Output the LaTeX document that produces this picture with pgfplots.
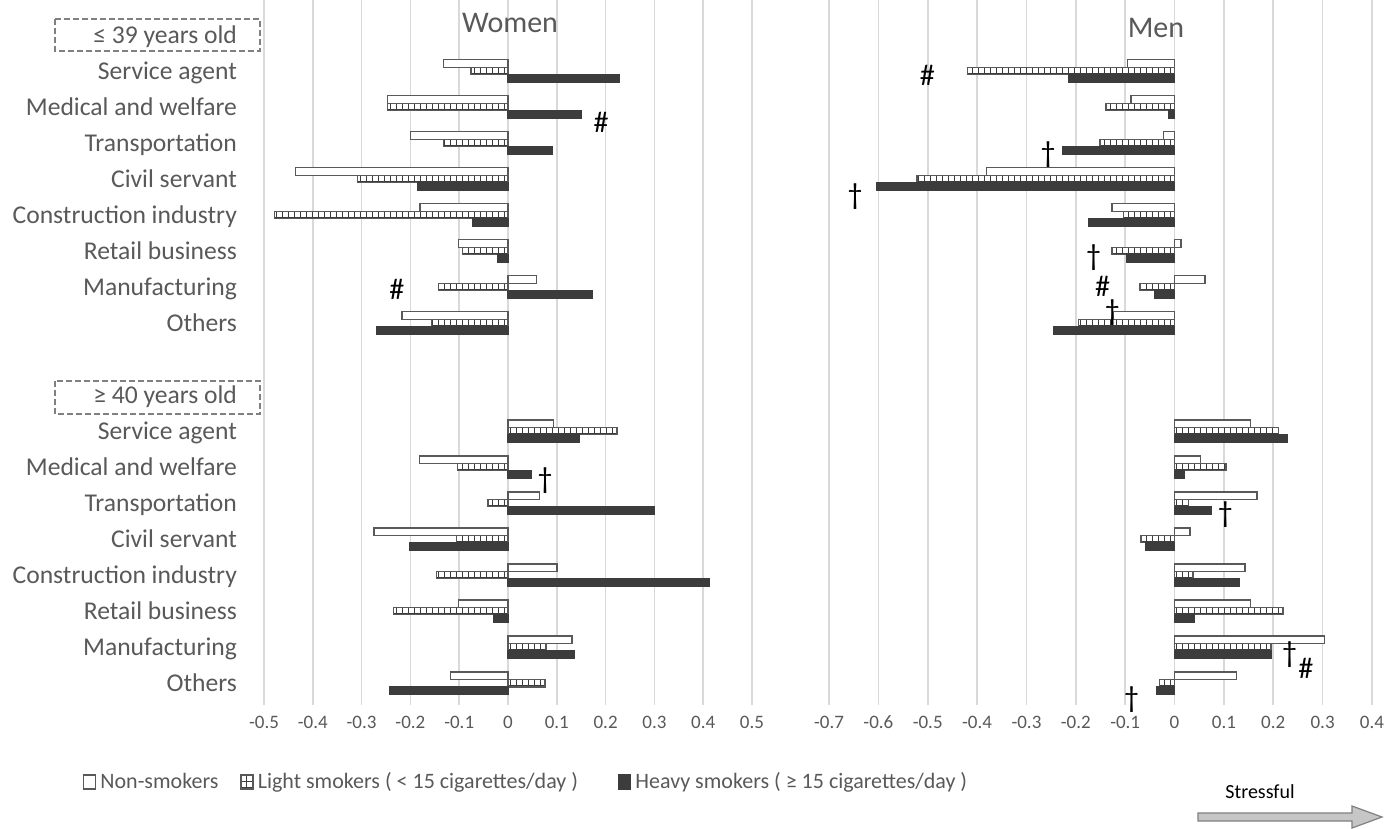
\documentclass[border=0pt]{standalone}
\usepackage{pgfplots}
\pgfplotsset{compat=1.18}
\usepackage{pgfplotstable}
\usepackage{fontspec}
\setmainfont{Carlito}
\usetikzlibrary{patterns}
\definecolor{txt}{HTML}{595959}
\definecolor{grd}{HTML}{D9D9D9}
\definecolor{dark}{HTML}{3C3C3C}

\pgfplotstableread{
row ns light heavy
1 -0.132 -0.076 0.228
2 -0.247 -0.247 0.150
3 -0.200 -0.132 0.090
4 -0.436 -0.309 -0.186
5 -0.180 -0.479 -0.072
6 -0.101 -0.093 -0.021
7 0.058 -0.143 0.172
8 -0.217 -0.157 -0.269
11 0.093 0.223 0.146
12 -0.181 -0.104 0.047
13 0.064 -0.041 0.300
14 -0.275 -0.106 -0.202
15 0.100 -0.147 0.413
16 -0.102 -0.235 -0.029
17 0.131 0.078 0.136
18 -0.118 0.076 -0.243
}\women

\pgfplotstableread{
row ns light heavy
1 -0.095 -0.419 -0.214
2 -0.088 -0.139 -0.012
3 -0.022 -0.151 -0.226
4 -0.381 -0.522 -0.604
5 -0.127 -0.104 -0.173
6 0.013 -0.127 -0.097
7 0.062 -0.070 -0.041
8 -0.125 -0.195 -0.245
11 0.154 0.210 0.228
12 0.052 0.104 0.020
13 0.167 0.028 0.074
14 0.031 -0.068 -0.058
15 0.143 0.037 0.131
16 0.154 0.220 0.041
17 0.304 0.195 0.195
18 0.125 -0.031 -0.036
}\men

\tikzset{ann/.style={font=\fontsize{15}{15}\selectfont, text=black}}
\pgfplotsset{
  panel/.style={
    scale only axis, height=352.5pt,
    xbar, bar width=0.208,
    y dir=reverse, ymin=-0.972, ymax=18.61,
    xmajorgrids, grid style={grd, line width=0.8pt},
    axis line style={draw=none},
    major tick length=0pt,
    xticklabel style={font=\fontsize{9.5}{11}\selectfont, text=txt, yshift=-2pt},
    /pgf/number format/fixed, /pgf/number format/precision=1,
    /pgf/number format/assume math mode=true,
    clip=false,
  },
  bimg/.style={legend image code/.code={\draw[##1] (0pt,-3.5pt) rectangle (6pt,3.5pt);}},
  ns/.style={fill=white, draw=txt, line width=0.7pt, bar shift=0pt, bimg},
  lt/.style={fill=white, draw=txt, line width=0.7pt, bar shift=0pt,
     postaction={pattern=grid, pattern color=dark}, bimg},
  hv/.style={fill=dark, draw=dark, line width=0.7pt, bar shift=0pt, bimg},
}

\begin{document}
\begin{tikzpicture}
\useasboundingbox (0pt,0pt) rectangle (693pt,-414.5pt);

% Women
\begin{axis}[panel,
  at={(132pt,-352.5pt)}, anchor=south west, width=244pt,
  xmin=-0.5, xmax=0.5,
  xtick={-0.5,-0.4,-0.3,-0.2,-0.1,0,0.1,0.2,0.3,0.4,0.5},
  ytick={0,1,2,3,4,5,6,7,8,10,11,12,13,14,15,16,17,18},
  yticklabels={≤ 39 years old, Service agent, Medical and welfare, Transportation, Civil servant, Construction industry, Retail business, Manufacturing, Others,
   ≥ 40 years old, Service agent, Medical and welfare, Transportation, Civil servant, Construction industry, Retail business, Manufacturing, Others},
  yticklabel style={font=\fontsize{12.8}{14}\selectfont, text=txt, xshift=-10pt, text depth=0pt},
  legend style={at={(-0.384,-0.109)}, anchor=west, draw=none, fill=none,
    font=\fontsize{11}{12}\selectfont, text=txt, legend columns=3,
    /tikz/column 2/.style={column sep=9pt},
    /tikz/column 4/.style={column sep=18pt}},
]
\addplot[ns] table[x=ns, y expr=\thisrow{row}-0.208] {\women};
\addplot[lt] table[x=light, y expr=\thisrow{row}] {\women};
\addplot[hv] table[x=heavy, y expr=\thisrow{row}+0.208] {\women};
\legend{Non-smokers\vphantom{()}, Light smokers ( < 15 cigarettes/day ), Heavy smokers ( ≥ 15 cigarettes/day )}
\draw[gray, dash pattern=on 3pt off 1.5pt, line width=0.8pt] (axis cs:-0.928,-0.444) rectangle (axis cs:-0.508,0.444);
\draw[gray, dash pattern=on 3pt off 1.5pt, line width=0.8pt] (axis cs:-0.928,9.61) rectangle (axis cs:-0.508,10.53);
\node[ann] at (axis cs:0.191,2.42) {\#};
\node[ann] at (axis cs:-0.228,7.06) {\#};
\node[ann] at (axis cs:0.076,12.39) {†};
\end{axis}

% Men
\begin{axis}[panel,
  at={(414.5pt,-352.5pt)}, anchor=south west, width=271.5pt,
  xmin=-0.7, xmax=0.4,
  xtick={-0.7,-0.6,-0.5,-0.4,-0.3,-0.2,-0.1,0,0.1,0.2,0.3,0.4},
  ytick=\empty,
]
\addplot[ns] table[x=ns, y expr=\thisrow{row}-0.208] {\men};
\addplot[lt] table[x=light, y expr=\thisrow{row}] {\men};
\addplot[hv] table[x=heavy, y expr=\thisrow{row}+0.208] {\men};
\node[ann] at (axis cs:-0.501,1.11) {\#};
\node[ann] at (axis cs:-0.256,3.33) {†};
\node[ann] at (axis cs:-0.647,4.50) {†};
\node[ann] at (axis cs:-0.164,6.17) {†};
\node[ann] at (axis cs:-0.146,6.97) {\#};
\node[ann] at (axis cs:-0.126,7.70) {†};
\node[ann] at (axis cs:0.103,13.33) {†};
\node[ann] at (axis cs:0.233,17.22) {†};
\node[ann] at (axis cs:0.266,17.58) {\#};
\node[ann] at (axis cs:-0.087,18.47) {†};
\end{axis}

\node[font=\fontsize{15}{15}\selectfont, text=txt] at (255pt,-11.5pt) {Women};
\node[font=\fontsize{15}{15}\selectfont, text=txt] at (578pt,-14pt) {Men};

\node[font=\fontsize{10}{12}\selectfont, text=black] at (630pt,-396pt) {Stressful};
\draw[fill=gray!45, draw=gray, line width=0.6pt]
  (599pt,-406.5pt) -- (676pt,-406.5pt) -- (676pt,-403pt) -- (691pt,-408.5pt)
  -- (676pt,-414pt) -- (676pt,-410.5pt) -- (599pt,-410.5pt) -- cycle;
\end{tikzpicture}
\end{document}
